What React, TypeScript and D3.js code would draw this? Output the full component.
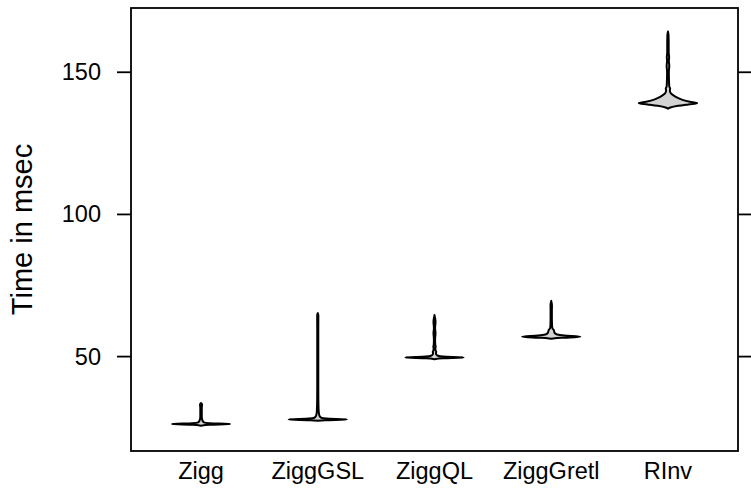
import { useRef, useEffect } from 'react';
import * as d3 from 'd3';

// timing benchmark, violins drawn from density profiles
const methods = ['Zigg', 'ZiggGSL', 'ZiggQL', 'ZiggGretl', 'RInv'];

const ziggTimes = [25.7, 26.0, 26.3, 26.6, 26.9, 27.3, 28, 29, 30.5, 32, 33.2, 33.7];
const ziggDens = [0, 0.3, 1, 0.3, 0.1, 0.06, 0.035, 0.025, 0.025, 0.025, 0.035, 0];

const gslTimes = [27.4, 27.6, 27.9, 28.2, 28.5, 29, 29.7, 31, 35, 40, 45, 50, 55, 60, 64.5, 65.3];
const gslDens = [0, 0.25, 1, 0.3, 0.12, 0.07, 0.045, 0.03, 0.02, 0.018, 0.018, 0.018, 0.018, 0.018, 0.02, 0];

const qlTimes = [49.1, 49.4, 49.7, 50.0, 50.3, 50.8, 51.3, 51.7, 52.2, 53, 53.5, 54.2, 56, 58.3, 60, 62.3, 63.5, 64.6];
const qlDens = [0, 0.3, 1, 0.3, 0.12, 0.06, 0.05, 0.06, 0.035, 0.03, 0.04, 0.025, 0.02, 0.035, 0.02, 0.035, 0.02, 0];

const gretlTimes = [56.3, 56.6, 57.0, 57.4, 57.8, 58.3, 58.8, 59.3, 59.8, 60.5, 62, 64, 66, 68, 69.6];
const gretlDens = [0, 0.35, 1, 0.45, 0.2, 0.12, 0.1, 0.09, 0.05, 0.03, 0.025, 0.022, 0.022, 0.025, 0];

const rinvTimes = [137.2, 137.6, 138.2, 138.7, 139.1, 139.6, 140.3, 141, 141.8, 142.6, 143.5, 144.3, 145, 147, 150, 152.3, 154, 155.2, 157, 160, 163, 164.3];
const rinvDens = [0, 0.08, 0.35, 0.7, 1, 0.75, 0.5, 0.34, 0.2, 0.1, 0.065, 0.075, 0.045, 0.035, 0.03, 0.045, 0.03, 0.04, 0.025, 0.025, 0.02, 0];

const profiles = [
  [ziggTimes, ziggDens],
  [gslTimes, gslDens],
  [qlTimes, qlDens],
  [gretlTimes, gretlDens],
  [rinvTimes, rinvDens],
];

const yTicks = [50, 100, 150];
const yLimits = [16.8, 172.6];

const App = () => {
  const svgRef = useRef(null);

  useEffect(() => {
    const svg = d3.select(svgRef.current);
    svg.selectAll('*').remove();

    const left = 131, right = 738, top = 8, bottom = 451;
    const font = 'Liberation Sans, Arial, Helvetica, sans-serif';

    const x = d3.scaleLinear().domain([0.4, methods.length + 0.6]).range([left, right]);
    const y = d3.scaleLinear().domain(yLimits).range([bottom, top]);
    const halfW = (x(1.25) - x(1));

    const g = svg.append('g');

    profiles.forEach(([times, dens], i) => {
      const cx = x(i + 1);
      const pts = times.map((t, j) => ({ t, d: dens[j] }));
      const area = d3.area()
        .y(p => y(p.t))
        .x0(p => cx - p.d * halfW)
        .x1(p => cx + p.d * halfW)
        .curve(d3.curveMonotoneY);
      g.append('path')
        .attr('d', area(pts))
        .attr('fill', '#d3d3d3')
        .attr('stroke', '#000')
        .attr('stroke-width', 2)
        .attr('stroke-linejoin', 'round');
    });

    // box
    svg.append('rect')
      .attr('x', left).attr('y', top)
      .attr('width', right - left).attr('height', bottom - top)
      .attr('fill', 'none').attr('stroke', '#000').attr('stroke-width', 1.8);

    // y ticks left + right
    yTicks.forEach(v => {
      svg.append('line')
        .attr('x1', left - 14).attr('x2', left)
        .attr('y1', y(v)).attr('y2', y(v))
        .attr('stroke', '#000').attr('stroke-width', 1.8);
      svg.append('line')
        .attr('x1', right).attr('x2', right + 13)
        .attr('y1', y(v)).attr('y2', y(v))
        .attr('stroke', '#000').attr('stroke-width', 1.8);
      svg.append('text')
        .attr('x', 101).attr('y', y(v))
        .attr('text-anchor', 'end')
        .attr('dominant-baseline', 'central')
        .attr('font-family', font)
        .attr('font-size', 23.5)
        .text(v);
    });

    methods.forEach((m, i) => {
      svg.append('text')
        .attr('x', x(i + 1)).attr('y', 479)
        .attr('text-anchor', 'middle')
        .attr('font-family', font)
        .attr('font-size', 23.5)
        .text(m);
    });

    svg.append('text')
      .attr('transform', `translate(32,${(top + bottom) / 2}) rotate(-90)`)
      .attr('text-anchor', 'middle')
      .attr('font-family', font)
      .attr('font-size', 29)
      .text('Time in msec');
  }, []);

  return (
    <svg ref={svgRef} width={751} height={490}
      style={{ position: 'absolute', left: 0, top: 0, background: '#fff' }} />
  );
};

export default App;
